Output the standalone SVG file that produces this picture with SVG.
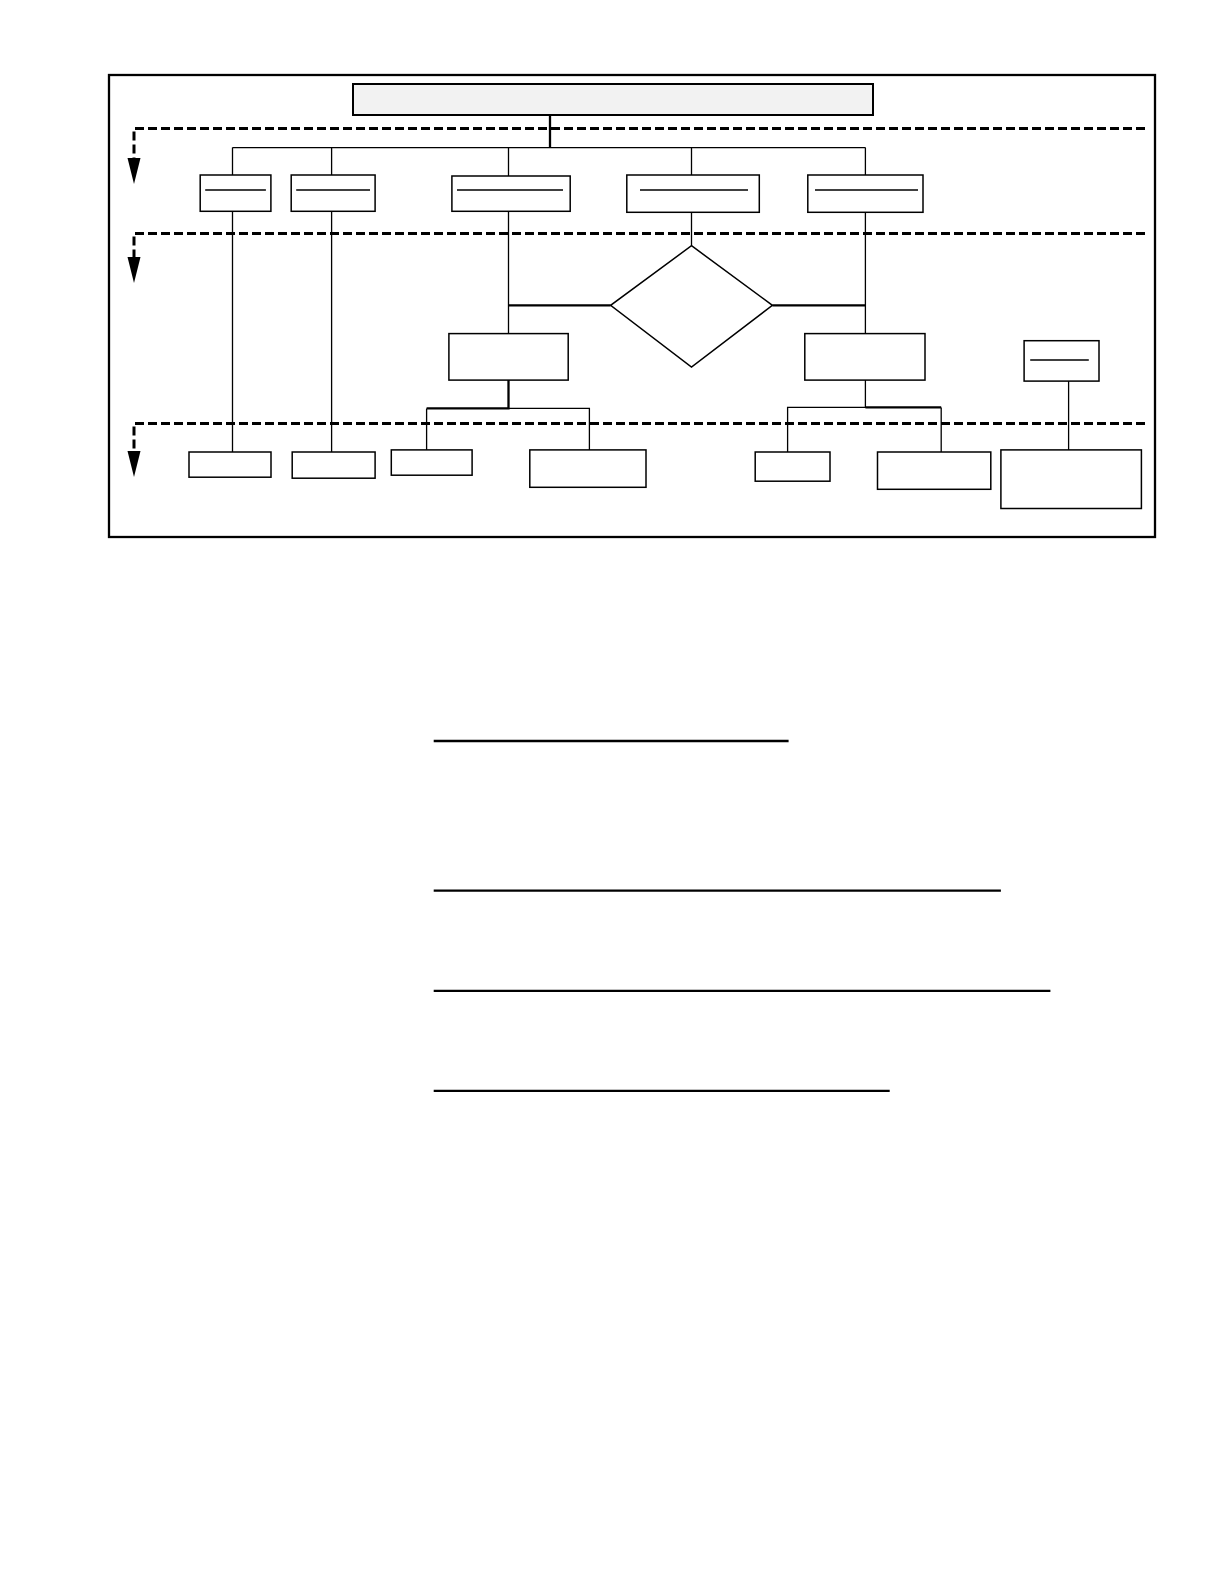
<svg xmlns="http://www.w3.org/2000/svg" width="1224" height="1584" viewBox="0 0 1224 1584">
<defs>
<style>
.box{fill:#fff;stroke:#000;stroke-width:1.5}
.ln{fill:none;stroke:#000;stroke-width:1.3}
.thk{fill:none;stroke:#000;stroke-width:2.3}
.dash{fill:none;stroke:#000;stroke-width:3;stroke-dasharray:9 4}
.rule{stroke:#000;stroke-width:2.3}
.head{fill:#000}
</style>
</defs>
<rect width="1224" height="1584" fill="#fff"/>
<rect x="109" y="75" width="1046" height="462" fill="none" stroke="#000" stroke-width="2.3"/>
<g id="lanes">
<path class="dash" d="M1145,128.4 H134 V158"/>
<path class="head" d="M127.5,158 L140.5,158 L134,184 Z"/>
<path class="dash" d="M1145,233.5 H134 V257"/>
<path class="head" d="M127.5,257 L140.5,257 L134,283 Z"/>
<path class="dash" d="M1145,423.6 H134 V451"/>
<path class="head" d="M127.5,451 L140.5,451 L134,477 Z"/>
</g>
<g id="connectors">
<path class="thk" d="M550,115 V147.6"/>
<path class="ln" d="M232.5,147.6 H865.4 M232.5,147.6 V175 M331.6,147.6 V175 M508.5,147.6 V176 M691.5,147.6 V175 M865.4,147.6 V175"/>
<path class="ln" d="M232.5,211 V452 M331.6,211 V452"/>
<path class="ln" d="M508.5,211 V333.6 M691.5,212 V245.7 M865.4,212 V333.6"/>
<path class="thk" d="M508.5,305.3 H610.6 M772.4,305.3 H865.4"/>
<path class="thk" d="M508.5,380 V408.4 H426.6"/>
<path class="ln" d="M426.6,408.4 V450 M508.5,408.4 H589.4 V450"/>
<path class="ln" d="M865.4,380 V407.4 H787.6 V452"/>
<path class="thk" d="M865.4,407.4 H941.2"/>
<path class="ln" d="M941.2,407.4 V452"/>
<path class="ln" d="M1068.6,381 V450"/>
</g>
<g id="n-top"><rect x="353" y="84" width="520" height="31" fill="#f2f2f2" stroke="#000" stroke-width="2"/></g>
<g id="n-a"><rect class="box" x="200.2" y="175" width="70.7" height="36.3"/><path class="ln" d="M205.2,190 H265.9"/></g>
<g id="n-b"><rect class="box" x="291.2" y="175" width="83.9" height="36.3"/><path class="ln" d="M296.2,190 H370"/></g>
<g id="n-c"><rect class="box" x="451.9" y="176" width="118.3" height="35.3"/><path class="ln" d="M457,190 H563"/></g>
<g id="n-d"><rect class="box" x="626.8" y="175" width="132.5" height="37.3"/><path class="ln" d="M640,190 H748"/></g>
<g id="n-e"><rect class="box" x="807.8" y="175" width="115.2" height="37.3"/><path class="ln" d="M815,190 H918"/></g>
<g id="n-diamond"><path class="box" d="M691.5,245.7 L772.4,305.3 L691.5,367 L610.6,305.3 Z"/></g>
<g id="n-f"><rect class="box" x="448.9" y="333.6" width="119.3" height="46.5"/></g>
<g id="n-g"><rect class="box" x="804.8" y="333.6" width="120.2" height="46.5"/></g>
<g id="n-h"><rect class="box" x="1024.1" y="340.7" width="74.9" height="40.4"/><path class="ln" d="M1030.2,360 H1088.8"/></g>
<g id="n-b1"><rect class="box" x="189" y="452" width="82" height="25.2"/></g>
<g id="n-b2"><rect class="box" x="292.2" y="452" width="82.9" height="26.2"/></g>
<g id="n-b3"><rect class="box" x="391.3" y="449.9" width="80.8" height="25.3" stroke-width="2"/></g>
<g id="n-b4"><rect class="box" x="529.8" y="449.9" width="116.2" height="37.4"/></g>
<g id="n-b5"><rect class="box" x="755.2" y="452" width="74.8" height="29.2"/></g>
<g id="n-b6"><rect class="box" x="877.5" y="452" width="113.3" height="37.3"/></g>
<g id="n-b7"><rect class="box" x="1000.9" y="449.9" width="140.5" height="58.6"/></g>
<g id="rules">
<line class="rule" x1="433.7" y1="741" x2="788.6" y2="741"/>
<line class="rule" x1="433.7" y1="890.7" x2="1000.9" y2="890.7"/>
<line class="rule" x1="433.7" y1="990.8" x2="1050.4" y2="990.8"/>
<line class="rule" x1="433.7" y1="1090.9" x2="889.7" y2="1090.9" stroke-width="3"/>
</g>
</svg>
